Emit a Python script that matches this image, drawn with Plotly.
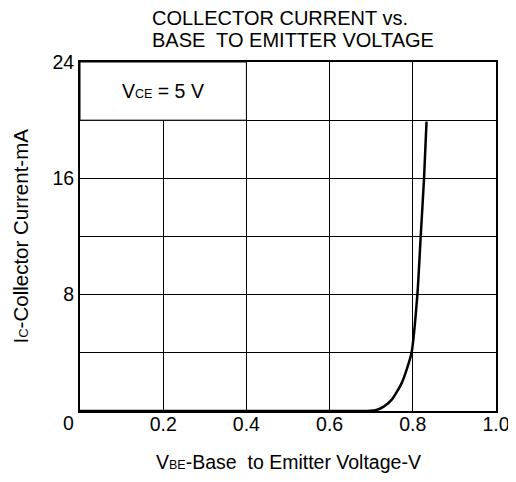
import plotly.graph_objects as go

# Data
vbe = [0.0, 0.3, 0.6, 0.69, 0.71, 0.73, 0.75, 0.773, 0.787, 0.797, 0.811, 0.819, 0.827, 0.833]
ic = [0.0, 0.0, 0.0, 0.0, 0.05, 0.3, 0.8, 1.9, 3.0, 4.0, 8.0, 12.0, 16.0, 19.9]

x_ticks = [0.0, 0.2, 0.4, 0.6, 0.8, 1.0]
x_ticktext = ["", "0.2", "0.4", "0.6", "0.8", "1.0"]
y_ticks = [0, 4, 8, 12, 16, 20, 24]
y_ticktext = ["", "", "8", "", "16", "", "24"]

title_lines = ["COLLECTOR CURRENT vs.", "BASE  TO EMITTER VOLTAGE"]
x_title = 'V<span style="font-size:12.5px">BE</span>-Base  to Emitter Voltage-V'
y_title = 'I<span style="font-size:13px">C</span>-Collector Current-mA'
legend_text = 'V<span style="font-size:12.5px">CE</span> = 5 V'

FONT = "Liberation Sans, Arial, sans-serif"
FS = 19.5

fig = go.Figure()
fig.add_trace(go.Scatter(x=vbe, y=ic, mode="lines",
                         line=dict(color="black", width=2.5, shape="spline", smoothing=0.6),
                         hoverinfo="skip", showlegend=False))

# page body has an 8px margin; size the figure so the plot box lands where the reference has it
fig.update_layout(
    width=508, height=474,
    margin=dict(l=72, r=20, t=54, b=71, autoexpand=False),
    paper_bgcolor="white", plot_bgcolor="white",
    font=dict(family=FONT, size=FS, color="black"),
    showlegend=False,
)
fig.update_xaxes(range=[0, 1], tickvals=x_ticks, ticktext=x_ticktext,
                 showgrid=True, gridcolor="black", gridwidth=1,
                 showline=True, linecolor="black", linewidth=2, mirror=True,
                 ticks="", zeroline=False, fixedrange=True, automargin=False,
                 ticklabelstandoff=-5,
                 tickfont=dict(size=FS))
fig.update_yaxes(range=[0, 24], tickvals=y_ticks, ticktext=y_ticktext,
                 showgrid=True, gridcolor="black", gridwidth=1,
                 showline=True, linecolor="black", linewidth=2, mirror=True,
                 ticks="", zeroline=False, fixedrange=True, automargin=False,
                 tickfont=dict(size=FS))

# Legend cell: blank out gridline inside the top-left cell
fig.add_shape(type="rect", x0=0.0, x1=0.4, y0=20, y1=24, xref="x", yref="y",
              fillcolor="white", line=dict(color="black", width=1), layer="above")

fig.add_annotation(x=0.2, y=22, xref="x", yref="y", text=legend_text, showarrow=False,
                   font=dict(size=FS, family=FONT, color="black"))
fig.add_annotation(x=0, y=0, xref="x", yref="y", text="0", showarrow=False,
                   xanchor="center", yanchor="middle", xshift=-12, yshift=-12,
                   font=dict(size=FS, family=FONT, color="black"))

# Axis titles
fig.add_annotation(x=0.5, y=0, xref="x domain", yref="y domain", text=x_title,
                   showarrow=False, xanchor="center", yanchor="middle", yshift=-51,
                   font=dict(size=FS, family=FONT, color="black"))
fig.add_annotation(x=0, y=0.5, xref="x domain", yref="y domain", text=y_title,
                   showarrow=False, xanchor="center", yanchor="middle", xshift=-60,
                   textangle=-90, font=dict(size=20.5, family=FONT, color="black"))

# Two-line title, left aligned
for i, line in enumerate(title_lines):
    fig.add_annotation(x=0.1683, y=1, xref="x domain", yref="y domain", text=line,
                       showarrow=False, xanchor="left", yanchor="middle",
                       yshift=44 - 22 * i,
                       font=dict(size=20, family=FONT, color="black"))

fig.write_html("out.html")
